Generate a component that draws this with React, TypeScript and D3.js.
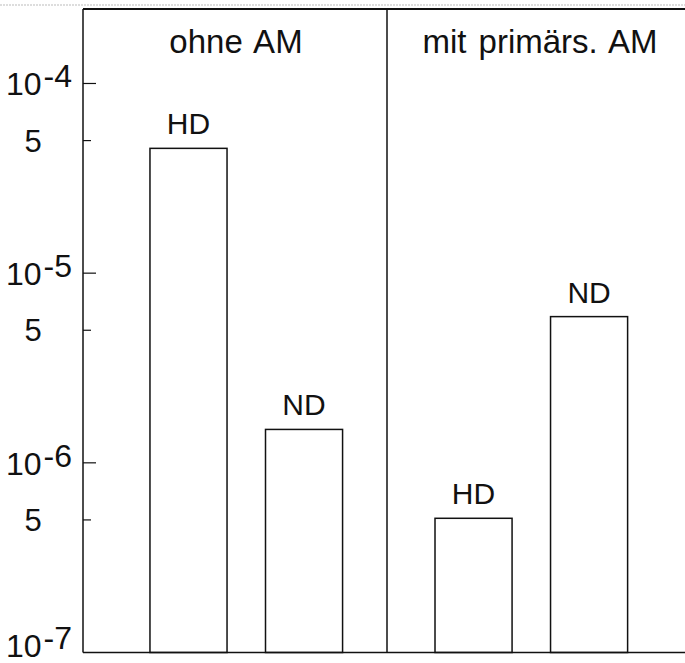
import React, { useEffect, useRef } from "react"
import * as d3 from "d3"

// panels and bars
const groups = ["ohne AM", "mit primärs. AM"]
const series = ["HD", "ND"]
const ohneValues = [4.55e-5, 1.5e-6]
const mitValues = [5.1e-7, 5.9e-6]

// y ticks: decades with 10^n labels, minor 5·10^n ticks labelled "5"
const decadeTicks = [1e-7, 1e-6, 1e-5, 1e-4]
const decadeExps = ["-7", "-6", "-5", "-4"]
const fiveTicks = [5e-7, 5e-6, 5e-5]

const W = 685
const H = 663
const margin = { top: 9, right: 0, bottom: 10.5, left: 83 }

const App = () => {
  const svgRef = useRef<SVGSVGElement | null>(null)

  useEffect(() => {
    if (!svgRef.current) return
    const svg = d3.select(svgRef.current)
    svg.selectAll("*").remove()

    const font = "'Liberation Sans', Arial, Helvetica, sans-serif"
    const ink = "#111"

    const y = d3.scaleLog()
      .domain([1e-7, 2.47e-4])
      .range([H - margin.bottom, margin.top])

    const x0 = d3.scaleBand<string>()
      .domain(groups)
      .range([margin.left, W - margin.right])
      .paddingInner(0)
      .paddingOuter(0.056)
      .align(0.65)

    const x1 = d3.scaleBand<string>()
      .domain(series)
      .range([0, x0.bandwidth()])
      .paddingInner(0.333)
      .paddingOuter(0.4)

    const data = groups.map((g, gi) => ({
      group: g,
      values: series.map((s, si) => ({ key: s, value: (gi === 0 ? ohneValues : mitValues)[si] }))
    }))

    // faint scan line at the very top
    svg.append("line")
      .attr("x1", 0).attr("x2", W)
      .attr("y1", 5).attr("y2", 5)
      .attr("stroke", "#bbb")
      .attr("stroke-width", 1)
      .attr("stroke-dasharray", "2,1")

    // frame: top, left axis, bottom axis
    svg.append("line")
      .attr("x1", margin.left).attr("x2", W)
      .attr("y1", margin.top).attr("y2", margin.top)
      .attr("stroke", ink).attr("stroke-width", 1.8)

    svg.append("line")
      .attr("x1", margin.left).attr("x2", margin.left)
      .attr("y1", margin.top).attr("y2", H - margin.bottom)
      .attr("stroke", ink).attr("stroke-width", 1.5)

    svg.append("line")
      .attr("x1", margin.left).attr("x2", W)
      .attr("y1", H - margin.bottom).attr("y2", H - margin.bottom)
      .attr("stroke", ink).attr("stroke-width", 1.5)

    // divider between the two panels
    const divX = 387
    svg.append("line")
      .attr("x1", divX).attr("x2", divX)
      .attr("y1", margin.top).attr("y2", H - margin.bottom)
      .attr("stroke", ink).attr("stroke-width", 1.5)

    // ticks (pointing inward)
    svg.selectAll(".dtick")
      .data(decadeTicks.slice(1))
      .enter().append("line")
      .attr("x1", margin.left).attr("x2", margin.left + 13)
      .attr("y1", d => y(d)).attr("y2", d => y(d))
      .attr("stroke", ink).attr("stroke-width", 1.2)

    svg.selectAll(".ftick")
      .data(fiveTicks)
      .enter().append("line")
      .attr("x1", margin.left).attr("x2", margin.left + 8)
      .attr("y1", d => y(d)).attr("y2", d => y(d))
      .attr("stroke", ink).attr("stroke-width", 1.2)

    // decade labels
    const dl = svg.selectAll(".dlabel")
      .data(decadeTicks)
      .enter().append("text")
      .attr("x", 6)
      .attr("y", d => Math.min(y(d) + 12, 657))
      .attr("font-family", font)
      .attr("font-size", 32)
      .attr("fill", ink)
    dl.append("tspan").text("10")
    dl.append("tspan")
      .attr("dx", 2)
      .attr("dy", -8)
      .text((d, i) => decadeExps[i])

    svg.selectAll(".flabel")
      .data(fiveTicks)
      .enter().append("text")
      .attr("x", 33)
      .attr("y", d => y(d) + 11)
      .attr("text-anchor", "middle")
      .attr("font-family", font)
      .attr("font-size", 31)
      .attr("fill", ink)
      .text("5")

    // panel titles
    svg.selectAll(".title")
      .data(groups)
      .enter().append("text")
      .attr("x", (d, i) => i === 0 ? (margin.left + divX) / 2 + 1 : (divX + W) / 2 + 4)
      .attr("y", 53)
      .attr("text-anchor", "middle")
      .attr("font-family", font)
      .attr("font-size", 33)
      .attr("word-spacing", 3)
      .attr("fill", ink)
      .text(d => d)

    // bars
    const gs = svg.selectAll(".grp")
      .data(data)
      .enter().append("g")
      .attr("transform", d => `translate(${x0(d.group)},0)`)

    gs.selectAll("rect")
      .data(d => d.values)
      .enter().append("rect")
      .attr("x", d => x1(d.key)!)
      .attr("width", x1.bandwidth())
      .attr("y", d => y(d.value))
      .attr("height", d => y(1e-7) - y(d.value))
      .attr("fill", "none")
      .attr("stroke", ink)
      .attr("stroke-width", 1.5)

    gs.selectAll("text")
      .data(d => d.values)
      .enter().append("text")
      .attr("x", d => x1(d.key)! + x1.bandwidth() / 2)
      .attr("y", d => y(d.value) - 14)
      .attr("text-anchor", "middle")
      .attr("font-family", font)
      .attr("font-size", 30)
      .attr("fill", ink)
      .text(d => d.key)
  }, [])

  return (
    <svg
      ref={svgRef}
      width={W}
      height={H}
      style={{ position: "absolute", left: 0, top: 0, background: "#fff" }}
    />
  )
}

export default App
